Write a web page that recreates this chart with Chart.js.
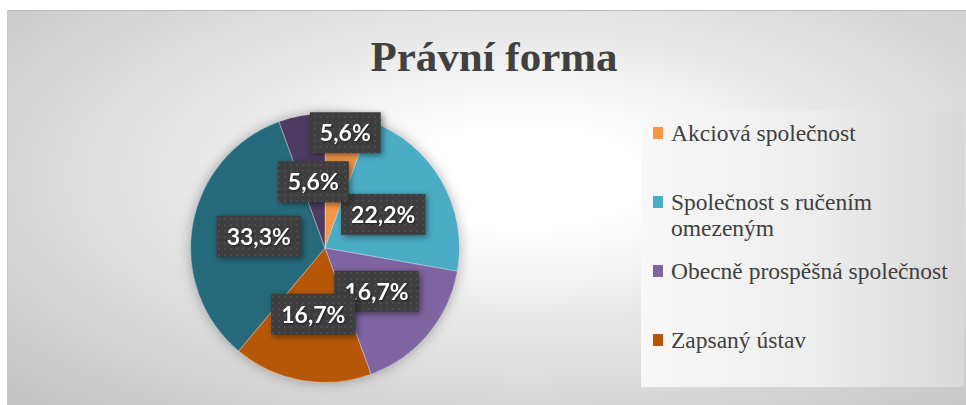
<!DOCTYPE html>
<html lang="cs">
<head>
<meta charset="utf-8">
<title>Právní forma</title>
<script src="https://cdn.jsdelivr.net/npm/chart.js@4.4.1/dist/chart.umd.min.js"></script>
<style>
    html, body { margin: 0; padding: 0; background: #fff; }
    #page { position: relative; width: 966px; height: 405px; overflow: hidden; }
    #frame {
        position: absolute; left: 7px; top: 10px; width: 959px; height: 395px;
        border-top: 1px solid #bdbdbd; border-left: 1px solid #c9c9c9;
        background: radial-gradient(ellipse farthest-corner at 54% 42%, #ffffff 0%, #ffffff 16%, #e8e8e8 45%, #c2c2c2 100%);
    }
    #title {
        position: absolute; left: 0; top: 32px; width: 988px; text-align: center;
        font-family: "Liberation Serif", "Times New Roman", "DejaVu Serif", serif;
        font-weight: bold; font-size: 43px; color: #404040;
    }
    #legend {
        position: absolute; left: 641px; top: 111px; width: 323px; height: 276px; overflow: hidden;
        background: linear-gradient(to right, #f8f8f8 0%, #ededed 55%, #d8d8d8 100%);
    }
    .legend-item {
        position: relative; height: 69px; box-sizing: border-box; padding: 9px 0 0 30px; line-height: 26px;
        font-family: "Liberation Serif", "Times New Roman", "DejaVu Serif", serif;
        font-size: 23.5px; font-weight: normal; color: #404040;
    }
    .legend-item .swatch { position: absolute; left: 12px; top: 16px; width: 10px; height: 12px; }
    #chart-wrap { position: absolute; left: 0; top: 0; width: 966px; height: 405px; }
</style>
</head>
<body>
<div id="page">
    <div id="frame"></div>
    <div id="title">Právní forma</div>
    <div id="legend"></div>
    <div id="chart-wrap"><canvas id="legalFormChart"></canvas></div>
</div>
<script>
// Data (18 organisations in total)
const categories = [
    'Akciová společnost',
    'Společnost s ručením omezeným',
    'Obecně prospěšná společnost',
    'Zapsaný ústav',
    'Spolek',
    'Nadační fond'
];
const counts = [1, 4, 3, 3, 6, 1];
const sliceColors = ['#F79646', '#4BACC6', '#8064A2', '#B65708', '#276A7C', '#4D3B62'];

// how far from the centre each label sits (fraction of radius)
const labelRadius = [0.87, 0.5, 0.5, 0.5, 0.5, 0.5];

const formatPercent = (value, total) => (value / total * 100).toFixed(1).replace('.', ',') + '%';

function makeDotPattern(ctx) {
    const tile = document.createElement('canvas');
    tile.width = 6;
    tile.height = 6;
    const t = tile.getContext('2d');
    t.fillStyle = '#3e3e3e';
    t.fillRect(0, 0, 6, 6);
    t.fillStyle = '#4c4c4c';
    t.fillRect(2, 2, 2, 2);
    return ctx.createPattern(tile, 'repeat');
}

// soft glow behind the pie
const pieShadow = {
    id: 'pieShadow',
    beforeDatasetsDraw(chart) {
        const arc = chart.getDatasetMeta(0).data[0];
        if (!arc) return;
        const ctx = chart.ctx;
        ctx.save();
        ctx.shadowColor = 'rgba(0,0,0,0.35)';
        ctx.shadowBlur = 14;
        ctx.fillStyle = '#777';
        ctx.beginPath();
        ctx.arc(arc.x, arc.y, arc.outerRadius - 1, 0, Math.PI * 2);
        ctx.fill();
        ctx.restore();
    }
};

// dark boxed percentage labels
const boxLabels = {
    id: 'boxLabels',
    afterDatasetsDraw(chart) {
        const ctx = chart.ctx;
        const data = chart.data.datasets[0].data;
        const total = data.reduce((a, b) => a + b, 0);
        const pattern = makeDotPattern(ctx);
        ctx.save();
        ctx.font = 'bold 23px Lato, "Open Sans", sans-serif';
        ctx.textAlign = 'center';
        ctx.textBaseline = 'middle';
        chart.getDatasetMeta(0).data.forEach((arc, i) => {
            const mid = (arc.startAngle + arc.endAngle) / 2;
            const r = arc.outerRadius * labelRadius[i];
            const x = arc.x + Math.cos(mid) * r;
            const y = arc.y + Math.sin(mid) * r;
            const text = formatPercent(data[i], total);
            const w = ctx.measureText(text).width + 20;
            const h = 41;

            ctx.shadowColor = 'rgba(0,0,0,0.45)';
            ctx.shadowBlur = 6;
            ctx.shadowOffsetX = 2;
            ctx.shadowOffsetY = 2;
            ctx.fillStyle = pattern;
            ctx.fillRect(x - w / 2, y - h / 2, w, h);

            ctx.shadowColor = 'rgba(0,0,0,0.5)';
            ctx.shadowBlur = 2;
            ctx.shadowOffsetX = 1;
            ctx.shadowOffsetY = 1;
            ctx.fillStyle = '#ffffff';
            ctx.fillText(text, x, y + 1);
        });
        ctx.restore();
    }
};

function buildLegend(chart) {
    const box = document.getElementById('legend');
    box.innerHTML = '';
    chart.data.labels.forEach((label, i) => {
        const item = document.createElement('div');
        item.className = 'legend-item';
        const swatch = document.createElement('span');
        swatch.className = 'swatch';
        swatch.style.background = chart.data.datasets[0].backgroundColor[i];
        item.appendChild(swatch);
        item.appendChild(document.createTextNode(label));
        box.appendChild(item);
    });
}

const chart = new Chart(document.getElementById('legalFormChart').getContext('2d'), {
    type: 'pie',
    data: {
        labels: categories,
        datasets: [{
            label: 'Právní forma',
            data: counts,
            backgroundColor: sliceColors,
            borderColor: 'rgba(255,255,255,0.35)',
            borderWidth: 1,
            hoverOffset: 0
        }]
    },
    options: {
        responsive: true,
        maintainAspectRatio: false,
        animation: false,
        layout: {
            padding: { left: 190, right: 506, top: 113, bottom: 22 }
        },
        plugins: {
            legend: { display: false },
            title: { display: false },
            tooltip: { enabled: false }
        }
    },
    plugins: [pieShadow, boxLabels]
});

buildLegend(chart);
</script>
</body>
</html>
